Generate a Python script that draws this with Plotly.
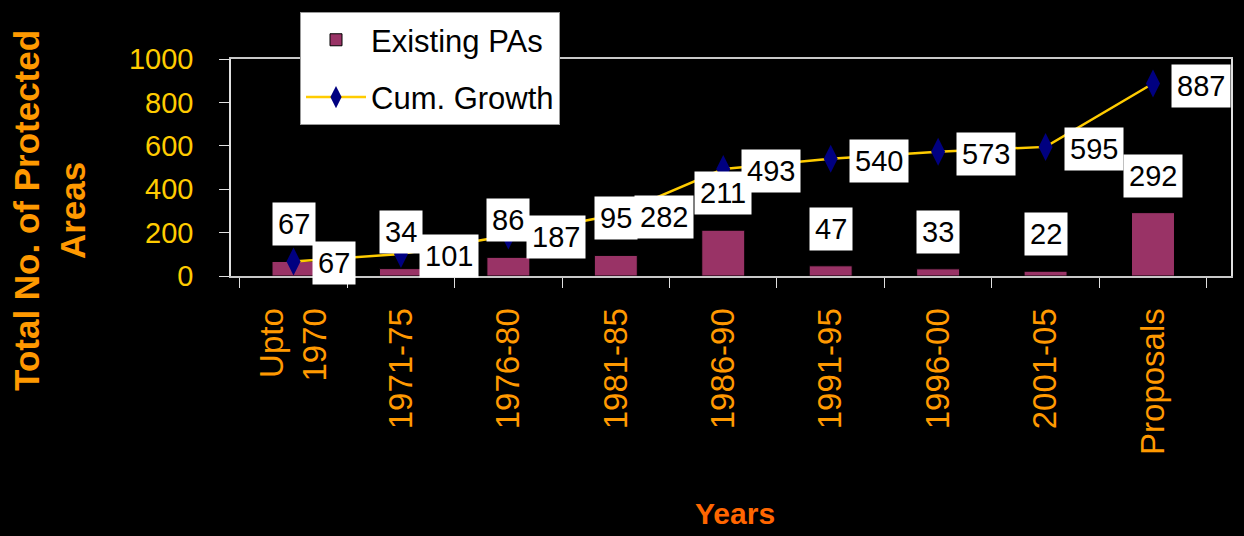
import plotly.graph_objects as go

# data
categories = ['Upto<br>1970', '1971-75', '1976-80', '1981-85', '1986-90',
              '1991-95', '1996-00', '2001-05', 'Proposals']
existing_pas = [67, 34, 86, 95, 211, 47, 33, 22, 292]
cum_growth = [67, 101, 187, 282, 493, 540, 573, 595, 887]
y_ticks = [0, 200, 400, 600, 800, 1000]

FONT = 'Liberation Sans, Arial'

fig = go.Figure()
fig.add_trace(go.Bar(
    x=categories, y=existing_pas, name='Existing PAs', width=0.4,
    marker=dict(color='#993366', line=dict(color='black', width=1)),
    legendgroup='a'))
fig.add_trace(go.Scatter(
    x=categories, y=cum_growth, name='Cum. Growth', mode='lines+markers',
    line=dict(color='#FFCC00', width=2.5),
    marker=dict(symbol='diamond-tall', size=20, color='#000080'),
    legendgroup='b'))

# data labels: white boxes, bar values above bars, cumulative to the right
for c, v in zip(categories, existing_pas):
    fig.add_annotation(x=c, y=v, text=str(v), showarrow=False, yshift=37,
                       bgcolor='white', borderpad=5,
                       font=dict(family=FONT, size=29, color='black'))
for c, v in zip(categories, cum_growth):
    fig.add_annotation(x=c, y=v, text=str(v), showarrow=False, xanchor='left',
                       xshift=18, yshift=-2, bgcolor='white', borderpad=5,
                       font=dict(family=FONT, size=29, color='black'))

# axis titles
fig.add_annotation(xref='paper', yref='paper', x=-0.181, y=0.30,
                   xanchor='center', yanchor='middle',
                   text='Total No. of Protected<br>Areas', textangle=-90,
                   showarrow=False, align='center',
                   font=dict(family=FONT, size=35, color='#FF9900', weight='bold'))
fig.add_annotation(xref='paper', yref='paper', x=0.504, y=-1.095,
                   xanchor='center', yanchor='middle',
                   text='Years', showarrow=False,
                   font=dict(family=FONT, size=30, color='#FF6600', weight='bold'))

fig.update_layout(
    width=1244, height=536,
    paper_bgcolor='black', plot_bgcolor='black',
    margin=dict(l=231, r=13, t=54, b=260),
    showlegend=True,
    legend=dict(x=0.069, y=1.216, xanchor='left', yanchor='top',
                bgcolor='white', bordercolor='#999999', borderwidth=1,
                traceorder='grouped', tracegroupgap=14, itemwidth=60,
                font=dict(family=FONT, size=31, color='black')),
    xaxis=dict(type='category', tickangle=-90, showgrid=False,
               showline=True, linecolor='#C8C8C8', linewidth=2, mirror=True,
               ticks='outside', ticklen=10, tickcolor='#E0E0E0',
               tickson='boundaries', ticklabelstandoff=17, automargin=False,
               tickfont=dict(family=FONT, size=33, color='#FF9900')),
    yaxis=dict(range=[0, 1000], tickvals=y_ticks, showgrid=False, zeroline=False,
               showline=True, linecolor='#E0E0E0', linewidth=1.5, mirror=True,
               ticks='outside', ticklen=10, tickcolor='#E0E0E0',
               ticklabelstandoff=20, automargin=False,
               tickfont=dict(family=FONT, size=29, color='#FFCC00')),
)

fig.write_html('out.html', config={'displayModeBar': False},
               post_script="document.body.style.margin='0';")
